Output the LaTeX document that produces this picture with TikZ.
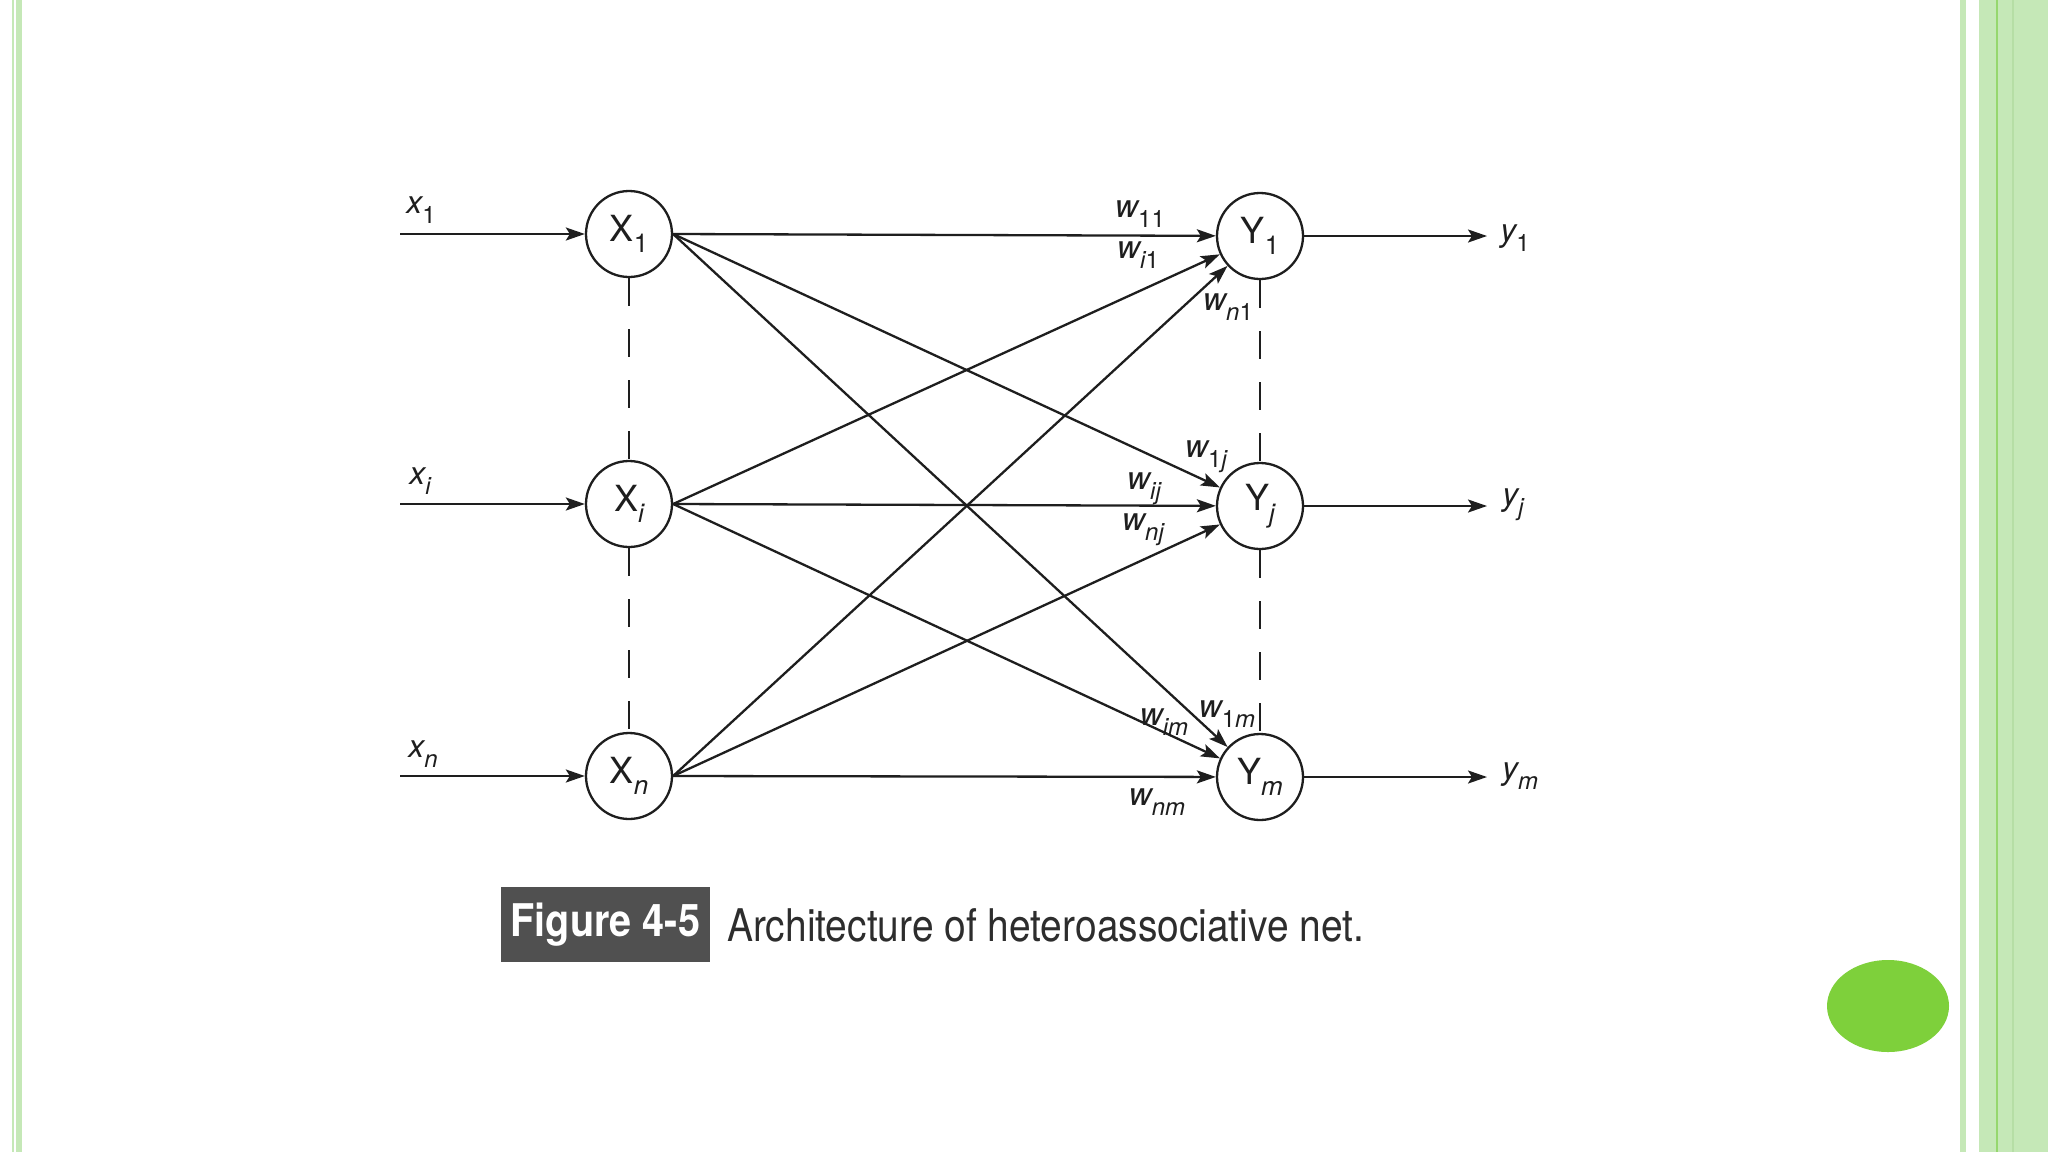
\documentclass[tikz,border=0pt]{standalone}
\usepackage{fontspec}
\setmainfont{TeX Gyre Heros}
\newfontfamily\capfont[FakeStretch=0.88]{TeX Gyre Heros}
\newfontfamily\captxtfont[FakeStretch=0.865]{TeX Gyre Heros}
\usetikzlibrary{arrows.meta}
\definecolor{stripe}{RGB}{197,232,183}
\definecolor{stripeline}{RGB}{150,215,110}
\definecolor{stripefaint}{RGB}{182,222,165}
\definecolor{blob}{RGB}{126,208,59}
\definecolor{capgray}{RGB}{80,80,80}
\definecolor{captext}{RGB}{45,45,45}
\definecolor{ink}{RGB}{30,30,30}
\newcommand\sbs[2]{\raisebox{-0.32em}{\fontsize{#1}{#1}\selectfont #2}}
\begin{document}
\begin{tikzpicture}[x=1pt,y=-1pt,
  neuron/.style={circle,draw=ink,line width=2.3pt,minimum size=86pt,inner sep=0pt,text=ink,font=\fontsize{36}{36}\selectfont},
  conn/.style={draw=ink,line width=2.3pt,-{Stealth[length=19pt,width=13pt,inset=4pt]}},
  lab/.style={inner sep=0pt,text=ink,font=\fontsize{32}{32}\selectfont\itshape},
  vdash/.style={draw=ink,line width=2.3pt,dash pattern=on 28pt off 23pt}]
% background and frame
\fill[white] (0,0) rectangle (2048,1152);
\path[use as bounding box] (0,0) rectangle (2048,1152);
\fill[stripe] (12,0) rectangle (14,1152);
\fill[stripe] (16,0) rectangle (22,1152);
\fill[stripe] (1960,0) rectangle (1966,1152);
\fill[stripe] (1979,0) rectangle (2048,1152);
\fill[stripeline] (1996,0) rectangle (1998,1152);
\fill[stripefaint] (2012,0) rectangle (2014,1152);
\fill[blob] (1888,1006) ellipse [x radius=61, y radius=46];
% neurons
\node[neuron] (X1) at (629,234) {X\sbs{26}{1}};
\node[neuron] (Xi) at (629,504) {X\sbs{26}{\itshape i}};
\node[neuron] (Xn) at (629,776) {X\sbs{26}{\itshape n}};
\node[neuron] (Y1) at (1260,236) {Y\sbs{26}{1}};
\node[neuron] (Yj) at (1260,506) {Y\sbs{26}{\itshape j}};
\node[neuron] (Ym) at (1260,777) {Y\sbs{26}{\itshape m}};
% dashed columns
\draw[vdash] (X1.south) -- (Xi.north);
\draw[vdash] (Xi.south) -- (Xn.north);
\draw[vdash] (Y1.south) -- (Yj.north);
\draw[vdash] (Yj.south) -- (Ym.north);
% inputs and outputs
\coordinate (in1) at (400,234);
\coordinate (ini) at (400,504);
\coordinate (inn) at (400,776);
\coordinate (out1) at (1487,236);
\coordinate (outj) at (1487,506);
\coordinate (outm) at (1487,777);
\draw[conn] (in1) -- (X1);
\draw[conn] (ini) -- (Xi);
\draw[conn] (inn) -- (Xn);
\draw[conn] (Y1) -- (out1);
\draw[conn] (Yj) -- (outj);
\draw[conn] (Ym) -- (outm);
% weights
\foreach \s in {X1,Xi,Xn}{
  \foreach \t in {Y1,Yj,Ym}{
    \draw[conn] (\s.east) -- (\t);
  }
}
% labels
\node[lab] (lx1) at (421,210) {x\sbs{24}{\upshape 1}};
\node[lab] (lxi) at (420,481) {x\sbs{24}{i}};
\node[lab] (lxn) at (423,754) {x\sbs{24}{n}};
\node[lab] (ly1) at (1515,238) {y\sbs{24}{\upshape 1}};
\node[lab] (lyj) at (1513,505) {y\sbs{24}{j}};
\node[lab] (lym) at (1520,776) {y\sbs{24}{m}};
\node[lab] (w11) at (1140,214) {w\sbs{24}{\upshape 11}};
\node[lab] (wi1) at (1138,255) {w\sbs{24}{i\upshape 1}};
\node[lab] (wn1) at (1228,307) {w\sbs{24}{n\upshape 1}};
\node[lab] (w1j) at (1206,457) {w\sbs{24}{\upshape 1\itshape j}};
\node[lab] (wij) at (1144,489) {w\sbs{24}{ij}};
\node[lab] (wnj) at (1143,530) {w\sbs{24}{nj}};
\node[lab] (w1m) at (1227,714) {w\sbs{24}{\upshape 1\itshape m}};
\node[lab] (wim) at (1164,722) {w\sbs{24}{im}};
\node[lab] (wnm) at (1157,802) {w\sbs{24}{nm}};
% caption
\node[fill=capgray,minimum width=209pt,minimum height=75pt,inner sep=0pt,text=white,
  font=\capfont\fontsize{45}{45}\selectfont\bfseries] (figbox) at (605.5,924.5) {Figure 4-5};
\node[anchor=west,inner sep=0pt,text=captext,font=\captxtfont\fontsize{45}{45}\selectfont] (captxt) at (727,925) {Architecture of heteroassociative net.};
\end{tikzpicture}
\end{document}
